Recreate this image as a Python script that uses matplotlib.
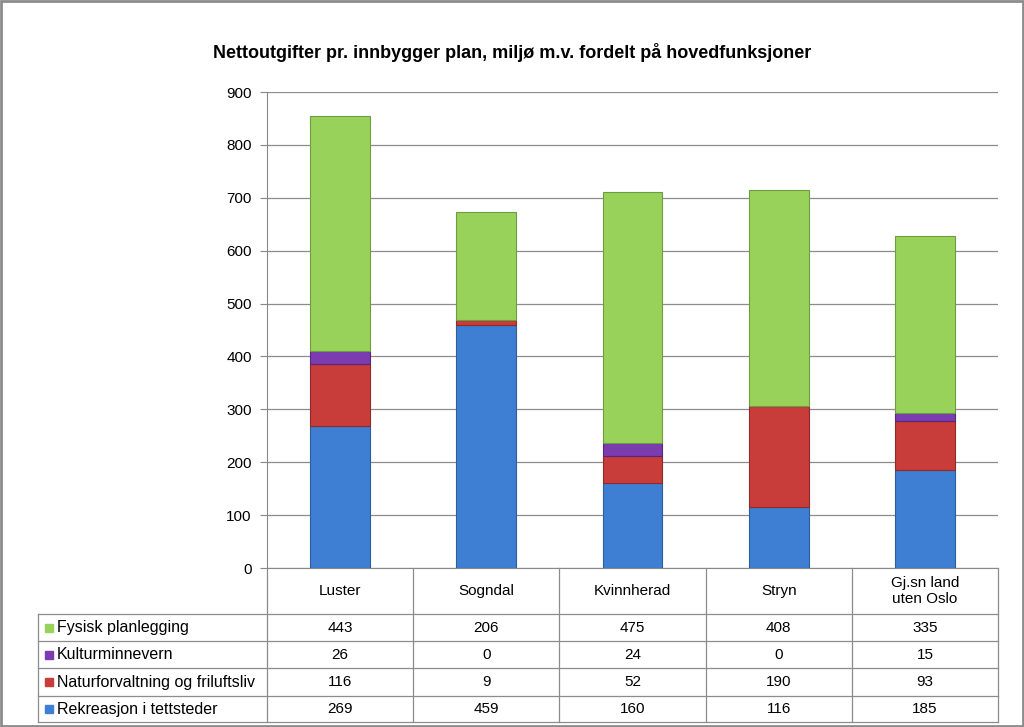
import numpy as np
import matplotlib.pyplot as plt
from matplotlib.patches import Rectangle

plt.rcParams['font.family'] = ['Liberation Sans', 'DejaVu Sans']

title = 'Nettoutgifter pr. innbygger plan, miljø m.v. fordelt på hovedfunksjoner'
categories = ['Luster', 'Sogndal', 'Kvinnherad', 'Stryn', 'Gj.sn land\nuten Oslo']

# bottom -> top stacking order
rekreasjon = [269, 459, 160, 116, 185]
natur      = [116, 9, 52, 190, 93]
kultur     = [26, 0, 24, 0, 15]
fysisk     = [443, 206, 475, 408, 335]

series_names = ['Rekreasjon i tettsteder', 'Naturforvaltning og friluftsliv',
                'Kulturminnevern', 'Fysisk planlegging']
series_vals = [rekreasjon, natur, kultur, fysisk]
colors = ['#3e7fd3', '#c83d3a', '#7a3cae', '#98d25a']
edges  = ['#2c5d9c', '#8f2a28', '#55287c', '#6f9c3e']

W, H = 1024, 727
fig = plt.figure(figsize=(W / 100, H / 100), dpi=100)

def px(x0, y0, x1, y1):
    return [x0 / W, 1 - y1 / H, (x1 - x0) / W, (y1 - y0) / H]

# main plot area
ax = fig.add_axes(px(267, 92, 998, 568))
x = np.arange(len(categories))
bottom = np.zeros(len(categories))
for vals, c, e in zip(series_vals, colors, edges):
    ax.bar(x, vals, width=0.41, bottom=bottom, color=c, edgecolor=e, linewidth=0.8, zorder=3)
    bottom += np.array(vals)

ax.set_xlim(-0.5, len(categories) - 0.5)
ax.set_ylim(0, 900)
ax.set_yticks(range(0, 901, 100))
ax.tick_params(axis='y', labelsize=11, length=5, color='#888888', pad=6)
ax.set_xticks([])
ax.yaxis.grid(True, color='#8c8c8c', linewidth=0.9, zorder=0)
for s in ['top', 'right']:
    ax.spines[s].set_visible(False)
ax.spines['left'].set_color('#888888')
ax.spines['bottom'].set_color('#888888')

# data table below the plot
tx0 = -0.5 - (267 - 38) / (731 / 5)
tab = fig.add_axes(px(38, 568, 998, 723))
tab.set_xlim(tx0, len(categories) - 0.5)
tab.set_ylim(723, 568)
tab.axis('off')
lc = '#8c8c8c'
row_edges = [614, 641, 668, 696, 722]
for yy in row_edges:
    tab.plot([tx0, len(categories) - 0.5], [yy, yy], color=lc, lw=0.9, clip_on=False)
tab.plot([tx0, tx0], [614, 722], color=lc, lw=0.9, clip_on=False)
for i in range(len(categories) + 1):
    tab.plot([i - 0.5, i - 0.5], [568, 722], color=lc, lw=0.9, clip_on=False)
for i, c in enumerate(categories):
    tab.text(i, 591, c, ha='center', va='center', fontsize=11, linespacing=1.15)

rows = list(zip(series_names, series_vals, colors))[::-1]
for r, (name, vals, c) in enumerate(rows):
    yc = (row_edges[r] + row_edges[r + 1]) / 2
    tab.add_patch(Rectangle((tx0 + 0.045, yc - 4), 0.055, 8, color=c, clip_on=False))
    tab.text(tx0 + 0.13, yc, name, ha='left', va='center', fontsize=11.5)
    for i, v in enumerate(vals):
        tab.text(i, yc, str(v), ha='center', va='center', fontsize=11)

fig.text(512 / W, 1 - 53 / H, title, ha='center', va='center', fontsize=13, fontweight='bold')

fig.add_artist(Rectangle((0.001, 0.001), 0.998, 0.997, transform=fig.transFigure,
                         fill=False, edgecolor='#8c8c8c', linewidth=2))

fig.savefig('out.png', dpi=100)
